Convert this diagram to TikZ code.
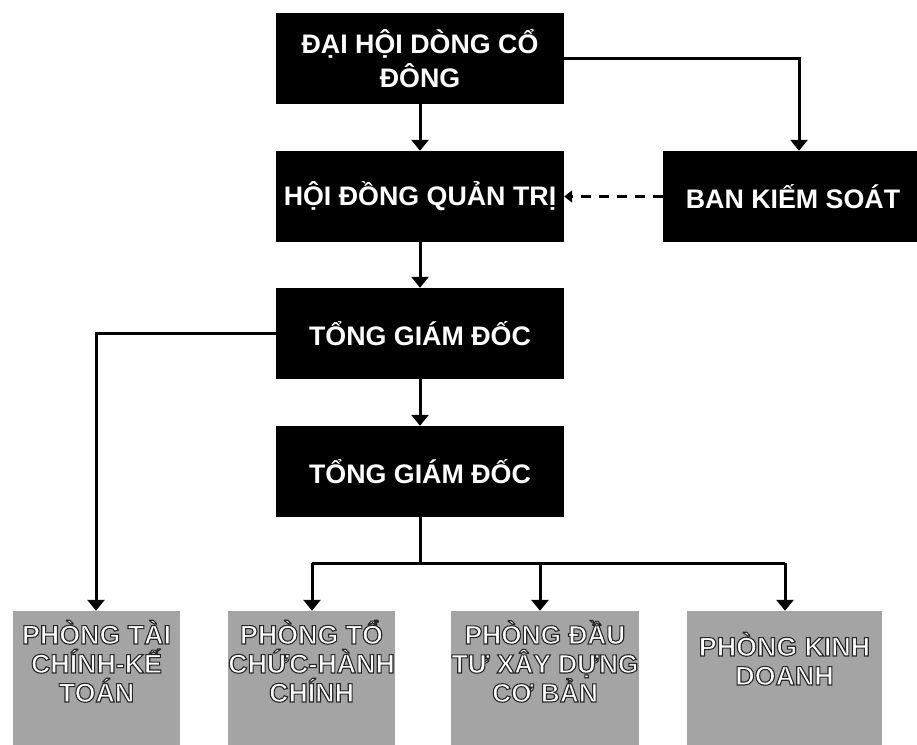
\documentclass[tikz,border=0pt]{standalone}
\usepackage{fontspec}
\setmainfont{Liberation Sans}[BoldFont={Liberation Sans Bold}]
\newfontfamily\boldsans{Liberation Sans Bold}
\usetikzlibrary{arrows.meta}
\definecolor{boxgray}{HTML}{A4A4A4}
\newcommand{\outlinetext}[1]{\special{pdf:literal direct 2 Tr 1.1 w 0.15 G}#1\special{pdf:literal direct 0 Tr 1 G}}
\newcommand{\topbox}[3]{\parbox[c][136pt][t]{#1}{\centering\outlinetext{\rule{0pt}{#2}#3}}}
\tikzset{
  darkbox/.style={fill=black, text=white, inner sep=0pt, minimum width=288pt, minimum height=91pt,
    font=\boldsans\fontsize{26.8}{34}\selectfont, align=center},
  graybox/.style={fill=boxgray, text=white, inner sep=0pt,
    font=\boldsans\fontsize{26.8}{29}\selectfont},
  conn/.style={line width=3pt, draw=black},
  arr/.style={conn, -{Triangle[width=17pt,length=11pt]}},
  dasharr/.style={line width=2.2pt, draw=black, dash pattern=on 10pt off 8pt, -{Triangle[width=12pt,length=8pt]}}
}
\begin{document}
\begin{tikzpicture}[x=1pt,y=-1pt]
\useasboundingbox (0,0) rectangle (917,744);
% dark boxes
\node[darkbox] (dhcd) at (420,58.5) {ĐẠI HỘI DÒNG CỔ\\ĐÔNG};
\node[darkbox] (hdqt) at (420,196.5) {HỘI ĐỒNG QUẢN TRỊ};
\node[darkbox, minimum width=256pt] (bks) at (791,196.5) {\hspace*{4pt}BAN KIẾM SOÁT};
\node[darkbox] (tgd1) at (420,333.5) {TỔNG GIÁM ĐỐC};
\node[darkbox] (tgd2) at (420,471.5) {TỔNG GIÁM ĐỐC};
% gray boxes
\node[graybox] (pa) at (96.5,679) {\topbox{167pt}{33pt}{PHÒNG TÀI\\CHÍNH-KẾ\\TOÁN}};
\node[graybox] (pb) at (311.5,679) {\topbox{167pt}{33pt}{PHÒNG TỔ\\CHỨC-HÀNH\\CHÍNH}};
\node[graybox, font=\boldsans\fontsize{26.3}{29}\selectfont] (pc) at (545,679) {\topbox{188pt}{33pt}{PHÒNG ĐẦU\\TƯ XÂY DỰNG\\CƠ BẢN}};
\node[graybox] (pd) at (784.5,679) {\topbox{195pt}{45pt}{PHÒNG KINH\\DOANH}};
% helper coordinates
\coordinate (rc) at (799,58.5);
\coordinate (lc) at (96,333.5);
\coordinate (j) at (420,563);
\coordinate (bl) at (312,563);
\coordinate (bc) at (540,563);
\coordinate (br) at (785,563);
% connectors
\draw[arr] (dhcd.south) -- (hdqt.north);
\draw[arr] (dhcd.east) -- (rc) -- (rc |- bks.north);
\draw[dasharr] (bks.west) -- (hdqt.east);
\draw[arr] (hdqt.south) -- (tgd1.north);
\draw[arr] (tgd1.south) -- (tgd2.north);
\draw[arr] (tgd1.west) -- (lc) -- (lc |- pa.north);
\draw[conn] (tgd2.south) -- (j);
\draw[conn] (bl) -- (br);
\draw[arr] (bl) -- (bl |- pb.north);
\draw[arr] (bc) -- (bc |- pc.north);
\draw[arr] (br) -- (br |- pd.north);
\end{tikzpicture}
\end{document}
